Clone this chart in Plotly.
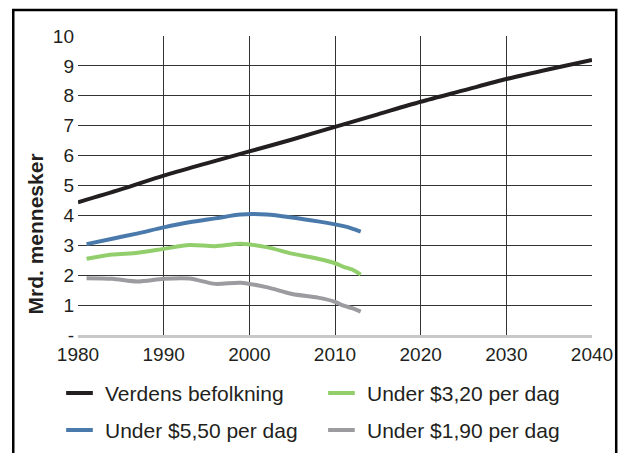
import plotly.graph_objects as go

# World population (billions), 1980-2040
pop_years = [1980, 1985, 1990, 1995, 2000, 2005, 2010, 2015, 2020, 2025, 2030, 2035, 2040]
pop_values = [4.44, 4.87, 5.33, 5.74, 6.14, 6.54, 6.96, 7.38, 7.80, 8.18, 8.56, 8.89, 9.20]

# Poverty headcounts (billions) by survey year
pov_years = [1981, 1984, 1987, 1990, 1993, 1996, 1999, 2002, 2005, 2008, 2010, 2011, 2012, 2013]
under_550 = [3.04, 3.22, 3.40, 3.60, 3.77, 3.90, 4.03, 4.03, 3.93, 3.80, 3.70, 3.64, 3.56, 3.46]
under_320 = [2.55, 2.69, 2.75, 2.88, 3.01, 2.97, 3.05, 2.94, 2.72, 2.55, 2.40, 2.28, 2.19, 2.02]
under_190 = [1.90, 1.88, 1.79, 1.88, 1.89, 1.71, 1.75, 1.60, 1.37, 1.25, 1.11, 0.98, 0.90, 0.78]

x_ticks = [1980, 1990, 2000, 2010, 2020, 2030, 2040]
y_ticks = [0, 1, 2, 3, 4, 5, 6, 7, 8, 9, 10]
y_ticktext = ["-", "1", "2", "3", "4", "5", "6", "7", "8", "9", "10"]

names = ["Verdens befolkning", "Under $5,50 per dag", "Under $3,20 per dag", "Under $1,90 per dag"]
colors = ["#231f20", "#4a7aab", "#92cf6c", "#9c9ca0"]

FONT = "Liberation Sans, Arial, sans-serif"
TEXT = "#231f20"

fig = go.Figure()

series = [
    (pop_years, pop_values),
    (pov_years, under_550),
    (pov_years, under_320),
    (pov_years, under_190),
]
for (xs, ys), name, color in zip(series, names, colors):
    fig.add_trace(go.Scatter(
        x=xs, y=ys, name=name, mode="lines",
        line=dict(color=color, width=4, shape="spline", smoothing=0.8),
        showlegend=False, hoverinfo="skip",
    ))

W, H = 625, 453
ML, MR, MT, MB = 78, 27, 36, 118
PW, PH = W - ML - MR, H - MT - MB


def px_x(px):
    return (px - ML) / PW


def px_y(py):
    return (H - MB - py) / PH


shapes = []
# outer frame (open at the bottom)
fx0, fx1, fy0, fy1 = px_x(12.5), px_x(622.5), px_y(480), px_y(10)
shapes.append(dict(
    type="path", xref="paper", yref="paper",
    path=f"M {fx0},{fy0} L {fx0},{fy1} L {fx1},{fy1} L {fx1},{fy0}",
    line=dict(color="#000000", width=2.5),
))

annotations = []
# legend: two columns, two rows
legend_slots = [
    (66, 393),   # Verdens befolkning
    (66, 430),   # Under $5,50
    (331, 393),  # Under $3,20
    (331, 430),  # Under $1,90
]
for (lx, ly), name, color in zip(legend_slots, names, colors):
    shapes.append(dict(
        type="line", xref="paper", yref="paper",
        x0=px_x(lx), x1=px_x(lx + 27), y0=px_y(ly), y1=px_y(ly),
        line=dict(color=color, width=4),
    ))
    annotations.append(dict(
        xref="paper", yref="paper", x=px_x(lx + 37), y=px_y(ly),
        xanchor="left", yanchor="middle", showarrow=False,
        text=name, font=dict(family=FONT, size=21, color=TEXT),
    ))

annotations.append(dict(
    xref="paper", yref="paper", x=px_x(35), y=px_y(234),
    xanchor="center", yanchor="middle", showarrow=False, textangle=-90,
    text="<b>Mrd. mennesker</b>", font=dict(family=FONT, size=21, color=TEXT),
))

fig.update_layout(
    width=W, height=H,
    margin=dict(l=ML, r=MR, t=MT, b=MB),
    paper_bgcolor="white", plot_bgcolor="white",
    font=dict(family=FONT, color=TEXT),
    shapes=shapes, annotations=annotations,
    showlegend=False,
)
fig.update_xaxes(
    range=[1980, 2040], tickvals=x_ticks,
    showgrid=True, gridcolor="#333333", gridwidth=1,
    showline=True, linecolor="#c8c8c8", linewidth=3,
    ticks="", tickfont=dict(family=FONT, size=19, color=TEXT),
    zeroline=False,
)
fig.update_yaxes(
    range=[0, 10], tickvals=y_ticks, ticktext=y_ticktext,
    showgrid=True, gridcolor="#333333", gridwidth=1,
    showline=False, ticks="", ticklabelstandoff=3,
    tickfont=dict(family=FONT, size=19, color=TEXT),
    zeroline=False,
)

fig.write_html("out.html")
